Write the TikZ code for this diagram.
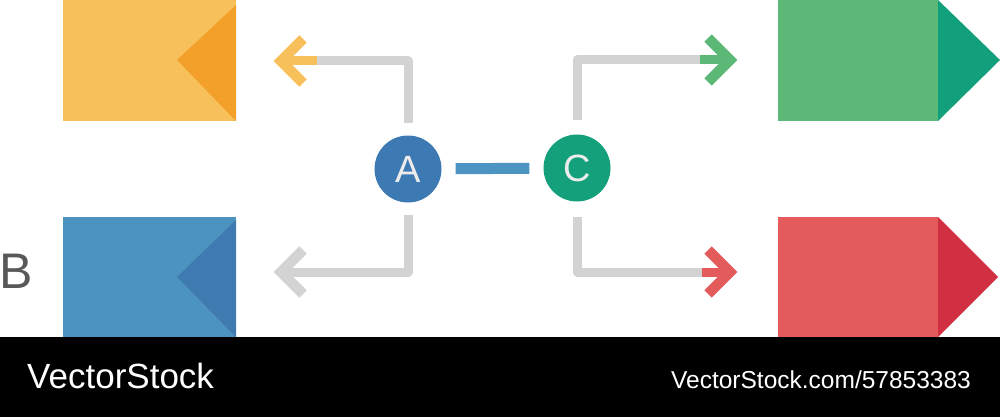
\documentclass[tikz,border=0pt]{standalone}
\usepackage{fontspec}
\setmainfont{Liberation Sans}
\definecolor{ylight}{HTML}{F8C05B}
\definecolor{ydark}{HTML}{F2A02A}
\definecolor{blight}{HTML}{4D93BF}
\definecolor{bdark}{HTML}{3F7BB0}
\definecolor{glight}{HTML}{5CB876}
\definecolor{gdark}{HTML}{12A07C}
\definecolor{rlight}{HTML}{E35B5A}
\definecolor{rdark}{HTML}{D03042}
\definecolor{circA}{HTML}{3D79B2}
\definecolor{circC}{HTML}{13A07A}
\definecolor{link}{HTML}{4C95C3}
\definecolor{wire}{HTML}{D3D3D3}
\definecolor{lettergray}{HTML}{58585A}
\tikzset{
  card/.style={rectangle, inner sep=0pt, anchor=north west},
  hub/.style={circle, inner sep=0pt, minimum size=67pt, text=white!85!gray, font=\fontsize{38}{38}\selectfont},
  wireline/.style={draw=wire, line width=9pt, line join=round, line cap=butt},
  chev/.style={line width=10.5pt, line join=miter, line cap=butt},
}
\begin{document}
\begin{tikzpicture}[x=1pt,y=-1pt]
\useasboundingbox (0,0) rectangle (1000,417);
% cards
\node[card, fill=ylight, minimum width=173pt, minimum height=121pt] (Y) at (63,0) {};
\fill[ydark] (236,5) -- (177,60) -- (236,121) -- cycle;
\node[card, fill=blight, minimum width=173pt, minimum height=120pt] (Bl) at (63,217) {};
\fill[bdark] (236,220) -- (177,277) -- (236,337) -- cycle;
\node[card, fill=glight, minimum width=160pt, minimum height=121pt] (G) at (778,0) {};
\fill[gdark] (938,0) -- (1000,60) -- (938,121) -- cycle;
\node[card, fill=rlight, minimum width=160pt, minimum height=120pt] (R) at (778,217) {};
\fill[rdark] (938,217) -- (998,277) -- (938,337) -- cycle;
% label B
\node[anchor=base west, inner sep=0pt, text=lettergray, font=\fontsize{50}{50}\selectfont] (lb) at (-1,288) {B};
% hubs
\node[hub, fill=circA] (A) at (408,169) {A};
\node[hub, fill=circC] (C) at (577,168) {C};
\draw[draw=link, line width=11pt, shorten <=14pt, shorten >=14pt] (A) -- (C);
% coordinates for wires
\coordinate (a1) at (408,123);
\coordinate (a2) at (408,215);
\coordinate (c1) at (577,120);
\coordinate (c2) at (577,217);
\coordinate (ty) at (281,61);
\coordinate (tb) at (281,272);
\coordinate (tg) at (730,60);
\coordinate (tr) at (730,272);
% top-left
\draw[wireline] (a1) -- (408,61) -- (317,61);
\draw[draw=ylight, line width=9pt] (317,61) -- (ty);
\draw[draw=ylight, chev] (303,39) -- (ty) -- (303,83);
% bottom-left
\draw[wireline] (a2) -- (408,272) -- (tb);
\draw[draw=wire, chev] (303,250) -- (tb) -- (303,294);
% top-right
\draw[wireline] (c1) -- (577,60) -- (700,60);
\draw[draw=glight, line width=9pt] (700,60) -- (tg);
\draw[draw=glight, chev] (708,38) -- (tg) -- (708,82);
% bottom-right
\draw[wireline] (c2) -- (577,272) -- (702,272);
\draw[draw=rlight, line width=9pt] (702,272) -- (tr);
\draw[draw=rlight, chev] (708,250) -- (tr) -- (708,294);
% footer bar
\fill[black] (0,337) rectangle (1000,417);
\node[anchor=base west, inner sep=0pt, text=white, font=\fontsize{35}{35}\selectfont] (f1) at (27,388) {VectorStock};
\node[anchor=base east, inner sep=0pt, text=white, font=\fontsize{24.5}{24.5}\selectfont] (f2) at (971,388) {VectorStock.com/57853383};
\end{tikzpicture}
\end{document}
